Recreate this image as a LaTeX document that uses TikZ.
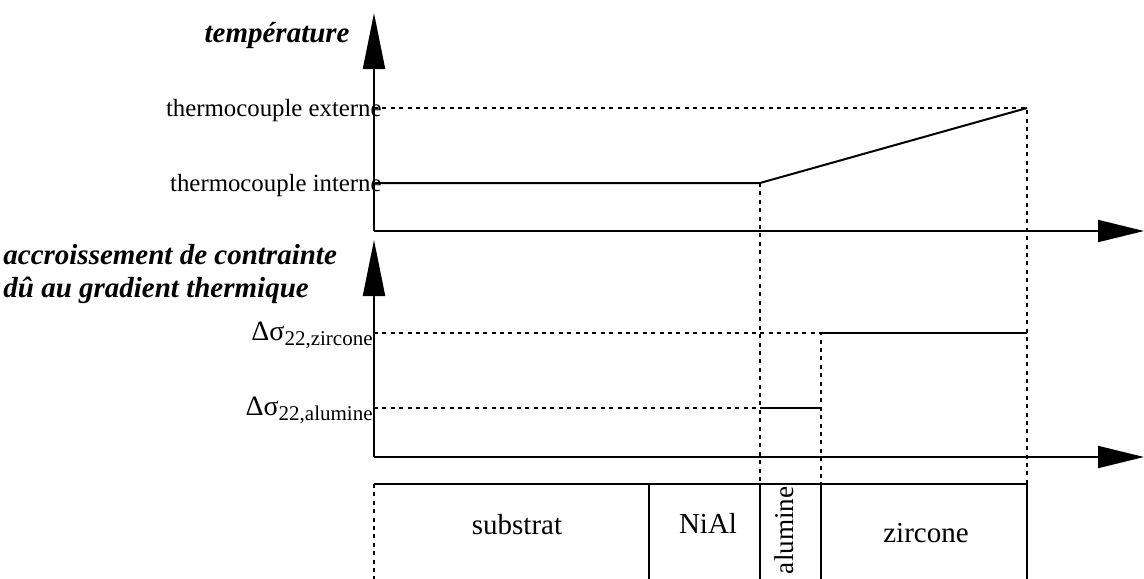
\documentclass[tikz,border=0pt]{standalone}
\usepackage{fontspec}
\setmainfont{Liberation Serif}
\usetikzlibrary{arrows.meta}

\tikzset{
  xaxis/.style={line width=1pt, -{Triangle[length=23pt,width=11pt]}},
  yaxis/.style={line width=1pt, -{Triangle[length=28pt,width=11pt]}},
  curve/.style={line width=1pt},
  guide/.style={line width=0.9pt, dash pattern=on 2pt off 2.2pt},
  lbl/.style={font=\fontsize{12.4}{14}\selectfont, inner sep=0pt},
  layer/.style={font=\fontsize{14.5}{16}\selectfont, inner sep=0pt},
  ttl/.style={font=\fontsize{14.5}{16.5}\selectfont\bfseries\itshape, inner sep=0pt},
}
\newcommand{\dsig}[1]{{\fontsize{14}{15}\selectfont Δσ}\raisebox{-2.5pt}{\fontsize{10.5}{12}\selectfont #1}}

\begin{document}
\begin{tikzpicture}[x=0.5pt, y=-0.5pt]
  \clip (0,0) rectangle (1144,578);

  % Abscissae of the layers
  \def\xO{374}
  \def\xN{649}
  \def\xA{760}
  \def\xZ{821}
  \def\xE{1027}

  % Levels
  \def\yExt{108}
  \def\yInt{183}
  \def\yZr{333}
  \def\yAl{408}
  \def\yBox{484}

  % Temperature axes
  \draw[yaxis] (\xO,231) -- (\xO,13);
  \draw[xaxis] (\xO,231) -- (1144,231);
  \node[ttl, anchor=base east] (temp) at (350,42) {température};
  \node[lbl, anchor=base east] (ext) at (382,116) {thermocouple externe};
  \node[lbl, anchor=base east] (int) at (382,191) {thermocouple interne};

  % Stress axes
  \draw[yaxis] (\xO,457) -- (\xO,240);
  \draw[xaxis] (\xO,457) -- (1144,457);
  \node[ttl, anchor=base west] (acc) at (3,264) {accroissement de contrainte};
  \node[ttl, anchor=base west] (grad) at (3,297) {dû au gradient thermique};
  \node[lbl, anchor=base east] (zr) at (373,340) {\dsig{22,zircone}};
  \node[lbl, anchor=base east] (al) at (373,415) {\dsig{22,alumine}};

  % Temperature profile
  \draw[guide] (\xO,\yExt) -- (\xE,\yExt) -- (\xE,\yBox);
  \draw[guide] (\xA,\yInt) -- (\xA,\yBox);
  \draw[curve] (\xO,\yInt) -- (\xA,\yInt) -- (\xE,\yExt);

  % Stress steps
  \draw[guide] (\xO,\yZr) -- (\xZ,\yZr) -- (\xZ,\yBox);
  \draw[guide] (\xO,\yAl) -- (\xA,\yAl);
  \draw[curve] (\xZ,\yZr) -- (\xE,\yZr);
  \draw[curve] (\xA,\yAl) -- (\xZ,\yAl);

  % Layers
  \draw[guide] (\xO,\yBox) -- (\xO,590);
  \draw[curve] (\xO,\yBox) -- (\xE,\yBox) -- (\xE,590);
  \foreach \x in {\xN,\xA,\xZ}
    \draw[curve] (\x,\yBox) -- (\x,590);
  \node[layer, anchor=base] (sub) at (517,534) {substrat};
  \node[layer, anchor=base] (nial) at (708,533) {NiAl};
  \node[layer, font=\fontsize{13.6}{15}\selectfont, anchor=base east, rotate=90] (alu) at (793,486) {alumine};
  \node[layer, anchor=base] (zirc) at (926,542) {zircone};

\end{tikzpicture}
\end{document}
